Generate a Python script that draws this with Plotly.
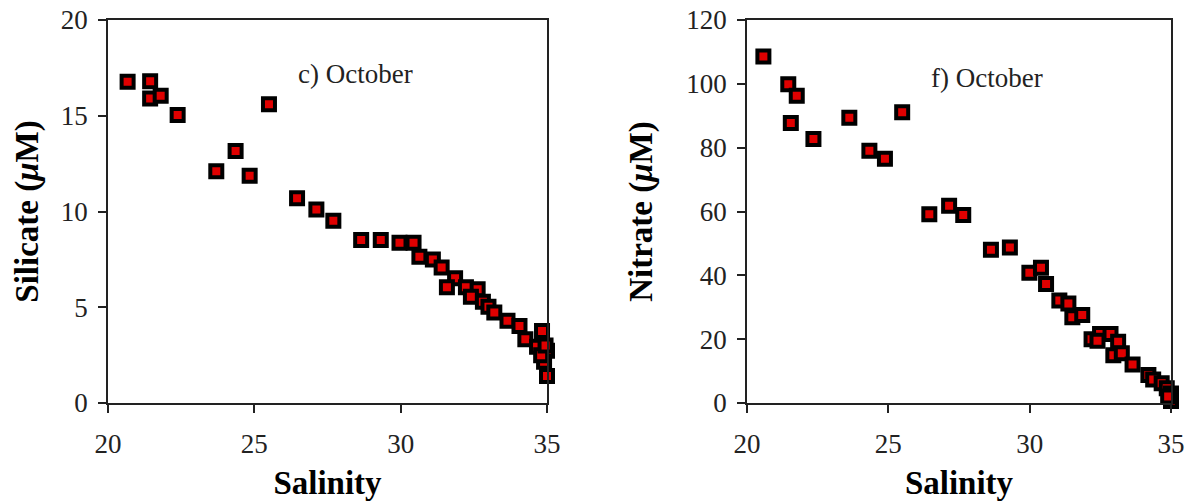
import plotly.graph_objects as go

# Silicate vs salinity (c) October
sal_si = [20.67, 21.44, 21.44, 21.8, 22.38, 25.5, 24.36, 23.7, 24.84, 26.46, 27.12, 27.7,
          28.65, 29.32, 29.96, 30.44, 30.64, 31.1, 31.4, 31.86, 31.58, 32.23, 32.63, 32.4,
          32.81, 33.0, 33.2, 33.65, 34.06, 34.26, 34.83, 34.66, 35.0, 34.9, 35.0, 34.8, 34.95]
silicate = [16.78, 16.8, 15.9, 16.05, 15.04, 15.6, 13.16, 12.1, 11.87, 10.69, 10.1, 9.52,
            8.51, 8.51, 8.37, 8.37, 7.64, 7.5, 7.07, 6.51, 6.04, 6.04, 5.94, 5.55,
            5.29, 5.03, 4.73, 4.3, 4.02, 3.33, 3.76, 2.94, 2.73, 2.16, 1.41, 2.5, 3.0]

# Nitrate vs salinity (f) October
sal_no = [20.58, 21.46, 21.76, 21.55, 22.35, 23.62, 25.49, 24.33, 24.88, 26.45, 27.15, 27.65,
          28.63, 29.3, 29.99, 30.4, 30.58, 31.05, 31.37, 31.51, 31.86, 32.19, 32.49, 32.86,
          33.13, 32.96, 33.26, 33.64, 34.2, 34.37, 34.67, 34.85, 35.0, 35.0, 32.4, 34.9]
nitrate = [108.6, 99.9, 96.3, 87.7, 82.7, 89.4, 91.1, 79.0, 76.5, 59.1, 61.8, 58.9,
           48.0, 48.7, 40.8, 42.4, 37.3, 32.1, 31.2, 26.9, 27.6, 20.0, 21.6, 21.6,
           19.2, 15.0, 15.6, 12.1, 8.8, 7.4, 6.2, 4.6, 3.0, 0.6, 19.5, 2.0]

x_ticks = [20, 25, 30, 35]
si_ticks = [0, 5, 10, 15, 20]
no_ticks = [0, 20, 40, 60, 80, 100, 120]

FONT = "Liberation Serif, Times New Roman, Times, serif"
LINE = "#222"
marker = dict(symbol="square", size=12, color="#e00000", line=dict(color="black", width=4))

fig = go.Figure()
fig.add_trace(go.Scatter(x=sal_si, y=silicate, mode="markers", marker=marker,
                         xaxis="x", yaxis="y", showlegend=False, cliponaxis=False))
fig.add_trace(go.Scatter(x=sal_no, y=nitrate, mode="markers", marker=marker,
                         xaxis="x2", yaxis="y2", showlegend=False, cliponaxis=False))

ax_common = dict(showline=True, linecolor=LINE, linewidth=1.5, mirror=True,
                 ticks="outside", ticklen=8, tickcolor=LINE, tickwidth=1.5,
                 showgrid=False, zeroline=False, automargin=False,
                 ticklabeloverflow="allow",
                 tickfont=dict(family=FONT, size=27, color="#222"))
title_font = dict(family=FONT, size=33, color="black")

L, R, T, B = 108, 27, 20, 99
W = 1198 - L - R

fig.update_layout(
    width=1198, height=502,
    margin=dict(l=L, r=R, t=T, b=B),
    plot_bgcolor="white", paper_bgcolor="white",
    xaxis=dict(domain=[0, (547 - L) / W], range=[20, 35], tickvals=x_ticks, anchor="y",
               ticklabelstandoff=8,
               title=dict(text="<b>Salinity</b>", font=title_font, standoff=13), **ax_common),
    yaxis=dict(domain=[0, 1], range=[0, 20], tickvals=si_ticks, anchor="x",
               ticklabelstandoff=5,
               title=dict(text="<b>Silicate (<i>μ</i>M)</b>", font=title_font, standoff=12), **ax_common),
    xaxis2=dict(domain=[(747 - L) / W, 1], range=[20, 35], tickvals=x_ticks, anchor="y2",
                ticklabelstandoff=8,
                title=dict(text="<b>Salinity</b>", font=title_font, standoff=13), **ax_common),
    yaxis2=dict(domain=[0, 1], range=[0, 120], tickvals=no_ticks, anchor="x2",
                ticklabelstandoff=5,
                title=dict(text="<b>Nitrate (<i>μ</i>M)</b>", font=title_font, standoff=24), **ax_common),
    annotations=[
        dict(text="c) October", x=26.43, y=17.18, xref="x", yref="y", xanchor="left",
             yanchor="middle", showarrow=False, font=dict(family=FONT, size=27, color="#222")),
        dict(text="f) October", x=26.44, y=101.9, xref="x2", yref="y2", xanchor="left",
             yanchor="middle", showarrow=False, font=dict(family=FONT, size=27, color="#222")),
    ],
)

fig.write_html("out.html",
               config={"displayModeBar": False},
               post_script="document.body.style.margin='0';document.body.style.overflow='hidden';")
